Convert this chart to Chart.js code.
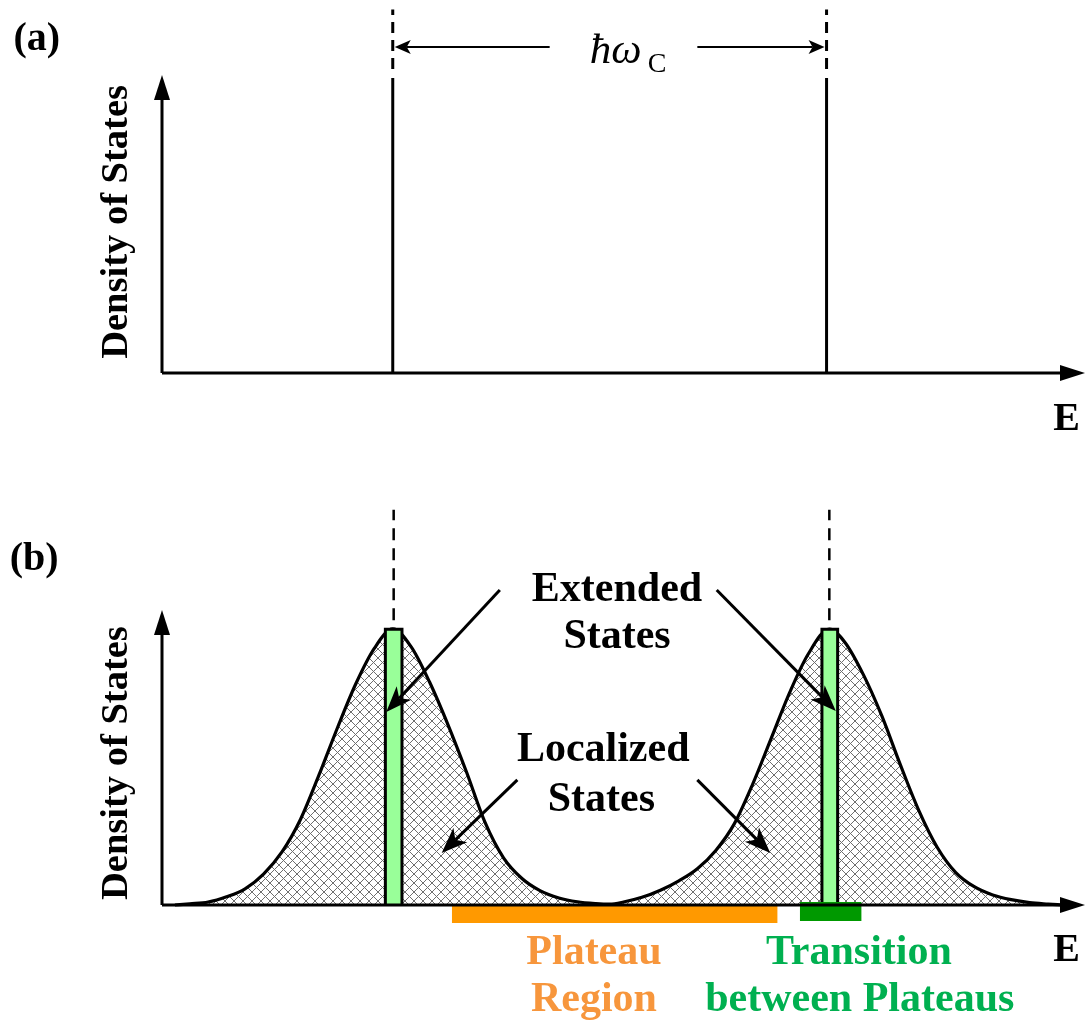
<!DOCTYPE html>
<html>
<head>
<meta charset="utf-8">
<title>Landau levels - density of states</title>
<script src="https://cdn.jsdelivr.net/npm/chart.js@4"></script>
<style>
  html, body { margin: 0; padding: 0; background: #fff; }
  #wrap { position: relative; width: 1088px; height: 1028px; }
  canvas { position: absolute; left: 0; }
  #chartA { top: 0; }
  #chartB { top: 460px; }
</style>
</head>
<body>
<div id="wrap">
  <canvas id="chartA" width="1088" height="460"></canvas>
  <canvas id="chartB" width="1088" height="568"></canvas>
</div>
<script>
// energy axis is 0..100 (arbitrary units) in both panels, DOS axis 0..100

// (a) clean system: delta peaks at the Landau levels
const levelEnergies = [25.0, 72.0];
const levelHeight = 99;
const levelGuideTop = 122;

// (b) disordered system: broadened levels
const energy = [1.4, 3, 5, 7, 9, 11, 13, 15, 17, 19, 21, 23, 25,
  27, 29, 31, 33, 35, 37, 39, 41, 43, 45, 47, 48.5,
  50, 52, 54, 56, 58, 60, 62, 64, 66, 68, 70, 72.3,
  74, 76, 78, 80, 82, 84, 86, 88, 90, 92, 94, 96, 97.5];
const dos = [0, 0.4, 1.0, 2.8, 5.5, 10.5, 18, 29, 44, 60, 75, 87, 93.6,
  87.5, 75.5, 61, 45, 28, 16, 9, 4.8, 2.4, 1.1, 0.5, 0.3,
  1.0, 2.6, 5.0, 8.2, 12.3, 18.5, 27.5, 41, 56.5, 72, 85, 93.5,
  89, 78, 64, 47.5, 32, 19.5, 11, 6.2, 3.4, 1.8, 0.8, 0.3, 0];

const extendedBands = [[24.2, 26.0], [71.5, 73.2]];
const bandTop = 93.5;
const peakGuides = [25.1, 72.3];
const guideTop = 134;
const plateauRange = [31.4, 66.7];
const transitionRange = [69.1, 75.8];

const SERIF = '"Liberation Serif", "Times New Roman", serif';
const BOLD = 'bold 42px ' + SERIF;

function hatchPattern() {
  const c = document.createElement('canvas');
  c.width = 9; c.height = 9;
  const g = c.getContext('2d');
  g.strokeStyle = '#6e6e6e';
  g.lineWidth = 1;
  g.beginPath();
  g.moveTo(0, 0); g.lineTo(9, 9);
  g.moveTo(9, 0); g.lineTo(0, 9);
  g.stroke();
  return g.createPattern(c, 'repeat');
}

// filled arrow head with tip at (x2, y2), coming from (x1, y1)
function head(ctx, x1, y1, x2, y2, len, half, notch) {
  const a = Math.atan2(y2 - y1, x2 - x1);
  const ca = Math.cos(a), sa = Math.sin(a);
  const bx = x2 - len * ca, by = y2 - len * sa;
  ctx.beginPath();
  ctx.moveTo(x2, y2);
  ctx.lineTo(bx - half * sa, by + half * ca);
  ctx.lineTo(x2 - (len - notch) * ca, y2 - (len - notch) * sa);
  ctx.lineTo(bx + half * sa, by - half * ca);
  ctx.closePath();
  ctx.fill();
}

function arrow(ctx, x1, y1, x2, y2, width, len, half, notch) {
  const a = Math.atan2(y2 - y1, x2 - x1);
  ctx.lineWidth = width;
  ctx.beginPath();
  ctx.moveTo(x1, y1);
  ctx.lineTo(x2 - (len - notch) * Math.cos(a), y2 - (len - notch) * Math.sin(a));
  ctx.stroke();
  head(ctx, x1, y1, x2, y2, len, half, notch);
}

function drawAxes(chart) {
  const { ctx, chartArea: ca, scales: { y } } = chart;
  const base = y.getPixelForValue(0);
  ctx.save();
  ctx.strokeStyle = '#000';
  ctx.fillStyle = '#000';
  arrow(ctx, ca.left, base, ca.left, y.getPixelForValue(100), 3, 25, 8, 0);
  arrow(ctx, ca.left, base, ca.right, base, 3, 25, 8, 0);
  ctx.restore();
}

function text(ctx, str, x, y, font, color) {
  ctx.font = font;
  ctx.fillStyle = color;
  ctx.textAlign = 'center';
  ctx.textBaseline = 'middle';
  ctx.fillText(str, x, y);
}

function axisLabels(chart, tag, tagX, tagY, dosY) {
  const { ctx, scales: { x, y } } = chart;
  ctx.save();
  ctx.font = 'bold 40px ' + SERIF;
  ctx.fillStyle = '#000';
  ctx.textAlign = 'left';
  ctx.textBaseline = 'middle';
  ctx.fillText(tag, x.getPixelForValue(tagX), y.getPixelForValue(tagY));
  text(ctx, 'E', x.getPixelForValue(98.0), y.getPixelForValue(-15.5), 'bold 40px ' + SERIF, '#000');
  ctx.translate(x.getPixelForValue(-4.9), y.getPixelForValue(dosY));
  ctx.rotate(-Math.PI / 2);
  text(ctx, 'Density of States', 0, 0, 'bold 38.5px ' + SERIF, '#000');
  ctx.restore();
}

const panelA = {
  id: 'panelA',
  afterDatasetsDraw(chart) {
    const { ctx, scales: { x, y } } = chart;
    drawAxes(chart);
    axisLabels(chart, '(a)', -16.1, 111.7, 50.7);
    // cyclotron gap marker
    ctx.save();
    ctx.strokeStyle = '#000';
    ctx.fillStyle = '#000';
    const ay = y.getPixelForValue(109.4);
    arrow(ctx, x.getPixelForValue(42.0), ay, x.getPixelForValue(levelEnergies[0]) + 2, ay, 2, 16, 7, 4);
    arrow(ctx, x.getPixelForValue(58.0), ay, x.getPixelForValue(levelEnergies[1]) - 2, ay, 2, 16, 7, 4);
    ctx.font = 'italic 43px ' + SERIF;
    const w1 = ctx.measureText('ħω').width;
    ctx.font = '28px ' + SERIF;
    const w2 = ctx.measureText('C').width;
    const start = x.getPixelForValue(50.5) - (w1 + w2 + 6) / 2;
    ctx.textAlign = 'left';
    ctx.textBaseline = 'alphabetic';
    ctx.font = 'italic 43px ' + SERIF;
    ctx.fillText('ħω', start, y.getPixelForValue(104));
    ctx.font = '28px ' + SERIF;
    ctx.fillText('C', start + w1 + 6, y.getPixelForValue(101));
    ctx.restore();
  }
};

const panelB = {
  id: 'panelB',
  afterDatasetsDraw(chart) {
    const { ctx, scales: { x, y } } = chart;
    drawAxes(chart);
    axisLabels(chart, '(b)', -16.5, 117, 48.1);
    const P = (ex, dy) => [x.getPixelForValue(ex), y.getPixelForValue(dy)];
    ctx.save();
    text(ctx, 'Extended', ...P(49.3, 106.8), BOLD, '#000');
    text(ctx, 'States', ...P(49.3, 90.8), BOLD, '#000');
    text(ctx, 'Localized', ...P(47.8, 52.5), BOLD, '#000');
    text(ctx, 'States', ...P(47.6, 35.6), BOLD, '#000');
    text(ctx, 'Plateau', ...P(46.8, -16.3), BOLD, '#f7963c');
    text(ctx, 'Region', ...P(46.8, -32.2), BOLD, '#f7963c');
    text(ctx, 'Transition', ...P(75.5, -16.3), BOLD, '#00b050');
    text(ctx, 'between Plateaus', ...P(75.6, -32.2), BOLD, '#00b050');
    ctx.strokeStyle = '#000';
    ctx.fillStyle = '#000';
    const pointers = [
      [36.6, 106.8, 24.3, 65.4],
      [60.1, 106.8, 73.0, 65.8],
      [38.5, 42.4, 30.3, 17.6],
      [58.0, 42.4, 65.9, 17.6]
    ];
    pointers.forEach(([a, b, c, d]) => arrow(ctx, ...P(a, b), ...P(c, d), 3, 26, 10, 7));
    ctx.restore();
  }
};

const common = {
  animation: false,
  responsive: false,
  events: [],
  plugins: { legend: { display: false }, tooltip: { enabled: false } },
  elements: { point: { radius: 0 } }
};

function seg(x0, y0, x1, y1) {
  return [{ x: x0, y: y0 }, { x: x1, y: y1 }];
}

// panel (a)
const datasetsA = [];
levelEnergies.forEach(e => {
  datasetsA.push({ data: seg(e, 0, e, levelHeight), showLine: true, borderColor: '#000', borderWidth: 3, clip: false });
  datasetsA.push({ data: seg(e, levelHeight + 3, e, levelGuideTop), showLine: true, borderColor: '#000', borderWidth: 3, borderDash: [11, 7], clip: false });
});

new Chart(document.getElementById('chartA'), {
  type: 'scatter',
  data: { datasets: datasetsA },
  options: {
    ...common,
    layout: { padding: { left: 162, right: 3, top: 75, bottom: 87 } },
    scales: {
      x: { type: 'linear', min: 0, max: 100, display: false },
      y: { type: 'linear', min: 0, max: 100, display: false }
    }
  },
  plugins: [panelA]
});

// panel (b)
const datasetsB = [];
extendedBands.forEach(([lo, hi]) => {
  datasetsB.push({
    data: [{ x: lo, y: 0 }, { x: lo, y: bandTop }, { x: hi, y: bandTop }, { x: hi, y: 0 }],
    showLine: true, fill: 'origin', backgroundColor: '#99ff99', borderColor: '#000', borderWidth: 3, order: 1
  });
});
datasetsB.push({
  data: energy.map((e, i) => ({ x: e, y: dos[i] })),
  showLine: true, fill: 'origin', backgroundColor: hatchPattern(),
  borderColor: '#000', borderWidth: 3.2, cubicInterpolationMode: 'monotone', order: 2
});
peakGuides.forEach(e => {
  datasetsB.push({ data: seg(e, bandTop + 3, e, guideTop), showLine: true, borderColor: '#000', borderWidth: 2.5, borderDash: [12, 8], clip: false, order: 3 });
});
datasetsB.push({
  data: seg(plateauRange[0], 0, plateauRange[1], 0), showLine: true, borderWidth: 0,
  borderColor: 'rgba(0,0,0,0)', fill: { value: -6.1 }, backgroundColor: '#ff9900', order: 0
});
datasetsB.push({
  data: seg(transitionRange[0], 1.0, transitionRange[1], 1.0), showLine: true, borderWidth: 0,
  borderColor: 'rgba(0,0,0,0)', fill: { value: -5.4 }, backgroundColor: '#009900', order: 0
});

new Chart(document.getElementById('chartB'), {
  type: 'scatter',
  data: { datasets: datasetsB },
  options: {
    ...common,
    layout: { padding: { left: 162, right: 3, top: 150, bottom: 99.4 } },
    scales: {
      x: { type: 'linear', min: 0, max: 100, display: false },
      y: { type: 'linear', min: -8, max: 100, display: false }
    }
  },
  plugins: [panelB]
});
</script>
</body>
</html>
